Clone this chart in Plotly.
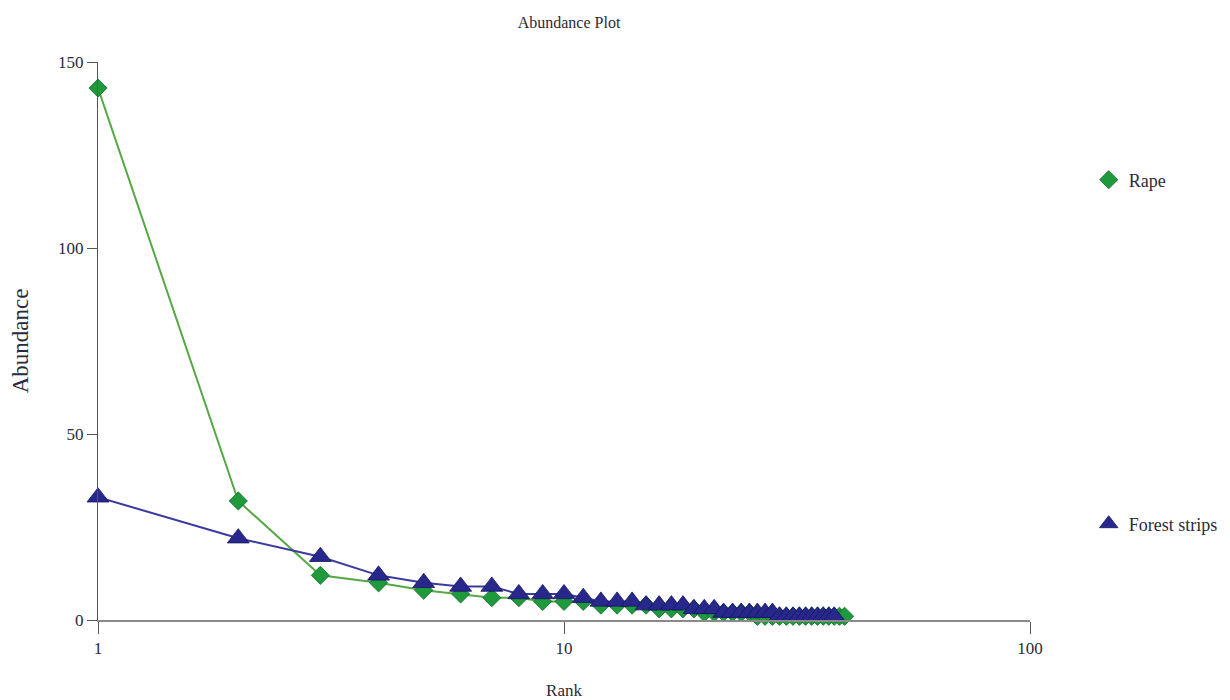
import plotly.graph_objects as go

# ---- data ----
rape_abundance = [143, 32, 12, 10, 8, 7, 6, 6, 5, 5, 5, 4, 4, 4, 4, 3, 3, 3, 3, 2,
                  2, 2, 2, 2, 2, 1, 1, 1, 1, 1, 1, 1, 1, 1, 1, 1, 1, 1, 1, 1]
forest_abundance = [33, 22, 17, 12, 10, 9, 9, 7, 7, 7, 6, 5, 5, 5, 4, 4, 4, 4, 3, 3,
                    3, 2, 2, 2, 2, 2, 2, 2, 1, 1, 1, 1, 1, 1, 1, 1, 1, 1]
rape_rank = list(range(1, len(rape_abundance) + 1))
forest_rank = list(range(1, len(forest_abundance) + 1))

y_ticks = [0, 50, 100, 150]
x_ticks = [1, 10, 100]
x_tick_labels = ["1", "10", "100"]

FONT = "Liberation Serif, Times New Roman, serif"
GREEN_FILL = "#1e9a3c"
GREEN_EDGE = "#136a28"
GREEN_LINE = "#55a845"
BLUE_FILL = "#28288c"
BLUE_EDGE = "#16165e"
BLUE_LINE = "#3a3aa0"

T, B, L, R = 54, 88, 90, 208
PH = 700 - T - B
PW = 1230 - L - R

fig = go.Figure()

fig.add_trace(go.Scatter(x=rape_rank, y=rape_abundance, mode="lines",
                         line=dict(color=GREEN_LINE, width=2),
                         showlegend=False, hoverinfo="skip", cliponaxis=False))
fig.add_trace(go.Scatter(x=rape_rank, y=rape_abundance, mode="markers", name="Rape",
                         marker=dict(symbol="diamond", size=14, color=GREEN_FILL,
                                     line=dict(color=GREEN_EDGE, width=0.8)),
                         cliponaxis=False, legend="legend"))
fig.add_trace(go.Scatter(x=forest_rank, y=forest_abundance, mode="lines",
                         line=dict(color=BLUE_LINE, width=2),
                         showlegend=False, hoverinfo="skip", cliponaxis=False))
fig.add_trace(go.Scatter(x=forest_rank, y=forest_abundance, mode="markers",
                         name="Forest strips",
                         marker=dict(symbol="triangle-up", size=19, color=BLUE_FILL,
                                     line=dict(color=BLUE_EDGE, width=0.8)),
                         cliponaxis=False, legend="legend2"))

fig.update_layout(
    width=1230, height=700,
    paper_bgcolor="white", plot_bgcolor="white",
    margin=dict(l=L, r=R, t=T, b=B, autoexpand=False),
    font=dict(family=FONT, size=17, color="#2a2a3a"),
    title=dict(text="Abundance Plot", x=0.5 + 5 / PW, xref="paper", xanchor="center",
               y=1 - 14 / 700, yref="container", yanchor="middle",
               font=dict(family=FONT, size=16, color="#2a2a3a")),
    xaxis=dict(type="log", range=[0, 2], tickvals=x_ticks, ticktext=x_tick_labels,
               showgrid=False, zeroline=False, showline=True, linecolor="#8a8a8a",
               linewidth=2, ticks="outside", ticklen=12, tickcolor="#555555",
               tickwidth=1, tickfont=dict(size=17), automargin=False,
               title=dict(text="Rank", standoff=27, font=dict(size=17))),
    yaxis=dict(range=[0, 150], tickvals=y_ticks, showgrid=False, zeroline=False,
               showline=True, linecolor="#555555", linewidth=1, ticks="outside",
               ticklen=10, tickcolor="#555555", tickwidth=1, tickfont=dict(size=17),
               automargin=False,
               title=dict(text="Abundance", standoff=27, font=dict(size=23))),
    legend=dict(x=1.063, y=1 - (172 - T) / PH, xanchor="left", yanchor="middle",
                bgcolor="rgba(0,0,0,0)", font=dict(size=18)),
    legend2=dict(x=1.063, y=1 - (516 - T) / PH, xanchor="left", yanchor="middle",
                 bgcolor="rgba(0,0,0,0)", font=dict(size=18)),
)

fig.write_html("out.html")
